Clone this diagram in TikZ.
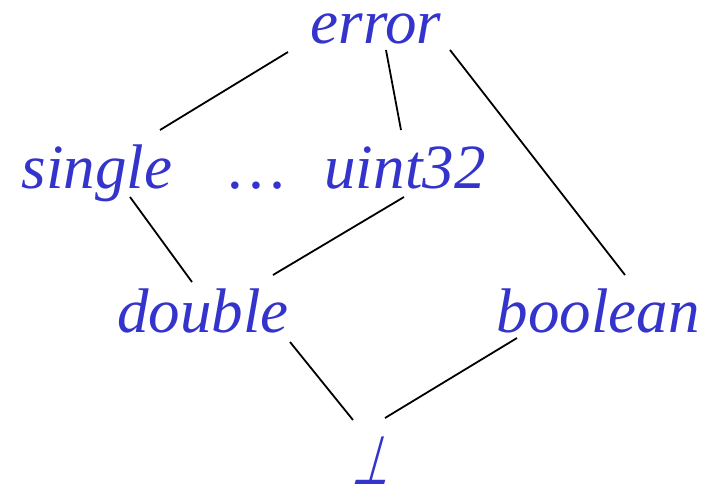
\documentclass[tikz,border=0pt]{standalone}
\usepackage{fontspec}
\setmainfont{Liberation Serif}
\newfontfamily\botfont{DejaVu Sans}[FakeSlant=0.28,FakeStretch=0.62]
\usetikzlibrary{calc}
\definecolor{lblue}{RGB}{52,52,204}
\begin{document}
\begin{tikzpicture}[x=1pt,y=-1pt,
  lbl/.style={anchor=base,inner sep=0pt,text=lblue,font=\fontsize{63}{72}\selectfont\itshape},
  edge/.style={draw=black,line width=1.8pt}]
\useasboundingbox (0,0) rectangle (713,485);
\node[lbl] (error) at (376,43) {error};
\node[lbl] (single) at (97,188) {single};
\node[lbl] (dots) at (258,188) {\dots};
\node[lbl] (uint) at (405,188) {uint32};
\node[lbl] (double) at (203,332) {double};
\node[lbl] (boolean) at (598,332) {boolean};
\node[anchor=base,inner sep=0pt,text=lblue,font=\fontsize{68}{72}\selectfont\botfont] (bot) at (370,484) {⊥};
\draw[edge] ([shift={(-88,9)}]error.base) -- ([shift={(63,-58)}]single.base);
\draw[edge] ([shift={(10,7)}]error.base) -- ([shift={(-4,-58)}]uint.base);
\draw[edge] ([shift={(74,7)}]error.base) -- ([shift={(27,-57)}]boolean.base);
\draw[edge] ([shift={(33,9)}]single.base) -- ([shift={(-11,-50)}]double.base);
\draw[edge] ([shift={(-1,9)}]uint.base) -- ([shift={(70,-57)}]double.base);
\draw[edge] ([shift={(87,10)}]double.base) -- ([shift={(-17,-64)}]bot.base);
\draw[edge] ([shift={(-81,6)}]boolean.base) -- ([shift={(15,-66)}]bot.base);
\end{tikzpicture}
\end{document}
